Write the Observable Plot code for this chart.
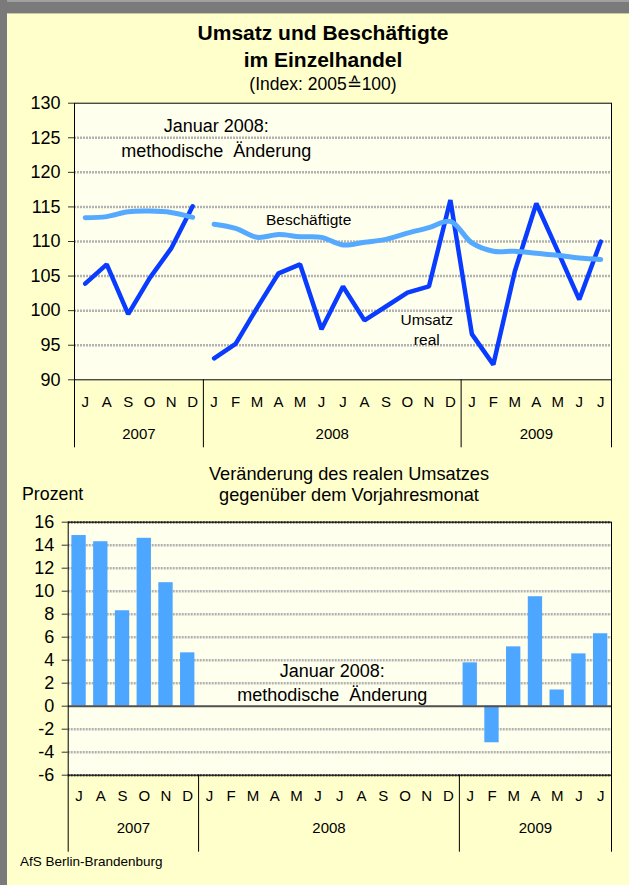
<!DOCTYPE html>
<html>
<head>
<meta charset="utf-8">
<script src="https://cdn.jsdelivr.net/npm/d3@7"></script>
<script src="https://cdn.jsdelivr.net/npm/@observablehq/plot@0.6"></script>
<style>
  html, body { margin: 0; padding: 0; background: #FFFFCC; }
  #page { position: relative; width: 629px; height: 885px; background: #FFFFCC; overflow: hidden;
          font-family: "Liberation Sans", Arial, sans-serif; color: #000; }
  .t { position: absolute; white-space: pre; transform: translate(-50%, -50%); line-height: 1; }
  .l { position: absolute; white-space: pre; transform: translate(0, -50%); line-height: 1; }
  svg { position: absolute; left: 0; }
</style>
</head>
<body>
<div id="page">
  <div style="position:absolute;left:0;top:0;width:629px;height:14px;background:#7a7a7a;border-top:2px solid #a0a0a0;box-sizing:border-box;border-bottom:1px solid #c8c8a0;"></div>
  <div style="position:absolute;left:0;top:0;width:7px;height:885px;background:#7a7a7a;"></div>
  <div class="t" style="left:323px;top:32px;font-size:21px;font-weight:bold;">Umsatz und Beschäftigte</div>
  <div class="t" style="left:323px;top:59px;font-size:21px;font-weight:bold;">im Einzelhandel</div>
  <div class="t" style="left:323px;top:85px;font-size:17.5px;">(Index: 2005≙100)</div>
  <div class="t" style="left:349px;top:474px;font-size:18.2px;">Veränderung des realen Umsatzes</div>
  <div class="t" style="left:349px;top:495px;font-size:18.2px;">gegenüber dem Vorjahresmonat</div>
  <div class="l" style="left:22px;top:495px;font-size:17.8px;">Prozent</div>
  <div class="l" style="left:20px;top:862px;font-size:13.5px;">AfS Berlin-Brandenburg</div>
</div>
<script>
// ---- data ----
const monthKeys = ["2007-07","2007-08","2007-09","2007-10","2007-11","2007-12",
  "2008-01","2008-02","2008-03","2008-04","2008-05","2008-06","2008-07","2008-08","2008-09","2008-10","2008-11","2008-12",
  "2009-01","2009-02","2009-03","2009-04","2009-05","2009-06","2009-07"];
const monthLabels = ["J","A","S","O","N","D","J","F","M","A","M","J","J","A","S","O","N","D","J","F","M","A","M","J","J"];
const umsatzReal = [103.9,106.7,99.5,104.7,109.0,115.1,
  93.1,95.2,100.4,105.4,106.7,97.3,103.5,98.6,100.6,102.6,103.5,116.0,
  96.6,92.2,105.7,115.5,108.6,101.6,110.0];
const beschaeftigte = [113.45,113.6,114.3,114.4,114.2,113.5,
  112.5,111.9,110.6,111.0,110.7,110.6,109.5,109.9,110.3,111.2,112.0,112.9,
  109.8,108.6,108.6,108.3,108.0,107.6,107.4];
const veraenderung = [14.84,14.3,8.3,14.6,10.74,4.64,
  null,null,null,null,null,null,null,null,null,null,null,null,
  3.77,-3.18,5.16,9.52,1.41,4.55,6.3];
const topTicks = [90,95,100,105,110,115,120,125,130];
const bottomTicks = [-6,-4,-2,0,2,4,6,8,10,12,14,16];
const noteLines = ["Januar 2008:", "methodische  Änderung"];

// ---- derived tables ----
const table = monthKeys.map((k, i) => ({
  i, key: k, year: k.slice(0, 4), m: monthLabels[i],
  period: k < "2008-01" ? "alt" : "neu",
  umsatz: umsatzReal[i], besch: beschaeftigte[i], v: veraenderung[i]
}));
const years = Array.from(d3.group(table, d => d.year), ([year, rows]) => ({
  year, first: d3.min(rows, d => d.i), last: d3.max(rows, d => d.i)
}));
const bounds = [years[0].first - 0.5, ...years.map(y => y.last + 0.5)];

const font = "Liberation Sans, Arial, sans-serif";
const plotBg = "#FFFFEE";
const gridStyle = { stroke: "#b2b2b2", strokeWidth: 2.5, strokeDasharray: "2 1" };
const fmt = d => String(d);

// ---- top chart ----
const topPlot = Plot.plot({
  width: 629, height: 370,
  marginLeft: 74, marginRight: 18, marginTop: 12.7, marginBottom: 80.7,
  style: { background: "transparent", fontFamily: font, color: "#000", overflow: "visible" },
  x: { domain: [-0.5, 24.5], axis: null },
  y: { domain: [90, 130], axis: null },
  marks: [
    Plot.frame({ fill: plotBg }),
    Plot.ruleY(topTicks.slice(1, -1), gridStyle),
    Plot.line(table, { x: "i", y: "umsatz", z: "period", stroke: "#0A3CFF", strokeWidth: 4.5, strokeLinejoin: "miter", strokeLinecap: "round" }),
    Plot.line(table, { x: "i", y: "besch", z: "period", stroke: "#55AAFF", strokeWidth: 5, curve: "catmull-rom", strokeLinecap: "round" }),
    Plot.frame({ stroke: "#000", strokeWidth: 1 }),
    Plot.axisY(topTicks, { label: null, tickFormat: fmt, fontSize: 18, tickSize: 6, tickPadding: 8, stroke: "#333" }),
    Plot.ruleX(bounds, { x: d => d, y1: 90, y2: 90, insetBottom: -68, stroke: "#000" }),
    Plot.text(table, { x: "i", text: "m", frameAnchor: "bottom", dy: 26.7, fontSize: 15 }),
    Plot.text(years, { x: d => (d.first + d.last) / 2, text: "year", frameAnchor: "bottom", dy: 58.7, fontSize: 15 }),
    Plot.text([noteLines[0]], { x: [6.1], y: [126.6], text: d => d, fontSize: 18 }),
    Plot.text([noteLines[1]], { x: [6.1], y: [123.1], text: d => d, fontSize: 18 }),
    Plot.text(["Beschäftigte"], { x: [10.4], y: [113.1], text: d => d, fontSize: 15.5 }),
    Plot.text(["Umsatz"], { x: [15.9], y: [98.7], text: d => d, fontSize: 15.5 }),
    Plot.text(["real"], { x: [15.9], y: [95.8], text: d => d, fontSize: 15.5 })
  ]
});
topPlot.style.top = "90px";
document.getElementById("page").appendChild(topPlot);

// ---- bottom chart ----
const bottomPlot = Plot.plot({
  width: 629, height: 355,
  marginLeft: 67.7, marginRight: 18, marginTop: 16.7, marginBottom: 85.3,
  style: { background: "transparent", fontFamily: font, color: "#000", overflow: "visible" },
  x: { domain: [-0.5, 24.5], axis: null },
  y: { domain: [-6, 16], axis: null },
  marks: [
    Plot.frame({ fill: plotBg }),
    Plot.ruleY(bottomTicks.filter(t => t !== 0).slice(1, -1), gridStyle),
    Plot.rectY(table.filter(d => d.v != null), { x1: d => d.i - 0.5, x2: d => d.i + 0.5, y1: 0, y2: "v", insetLeft: 3.7, insetRight: 3.7, fill: "#4DA6FF" }),
    Plot.ruleY([0], { stroke: "#505050", strokeWidth: 2 }),
    Plot.ruleY([-6, 16], { stroke: "#606060", strokeWidth: 2.5, strokeDasharray: "2 1" }),
    Plot.frame({ stroke: "#000", strokeWidth: 1 }),
    Plot.axisY(bottomTicks, { label: null, tickFormat: fmt, fontSize: 18, tickSize: 6, tickPadding: 8, stroke: "#333" }),
    Plot.ruleX(bounds, { x: d => d, y1: -6, y2: -6, insetBottom: -77, stroke: "#000" }),
    Plot.text(table, { x: "i", text: "m", frameAnchor: "bottom", dy: 25.3, fontSize: 15 }),
    Plot.text(years, { x: d => (d.first + d.last) / 2, text: "year", frameAnchor: "bottom", dy: 57.3, fontSize: 15 }),
    Plot.text([noteLines[0]], { x: [11.65], y: [3.02], text: d => d, fontSize: 18 }),
    Plot.text([noteLines[1]], { x: [11.65], y: [0.93], text: d => d, fontSize: 18 })
  ]
});
bottomPlot.style.top = "505px";
document.getElementById("page").appendChild(bottomPlot);
</script>
</body>
</html>
